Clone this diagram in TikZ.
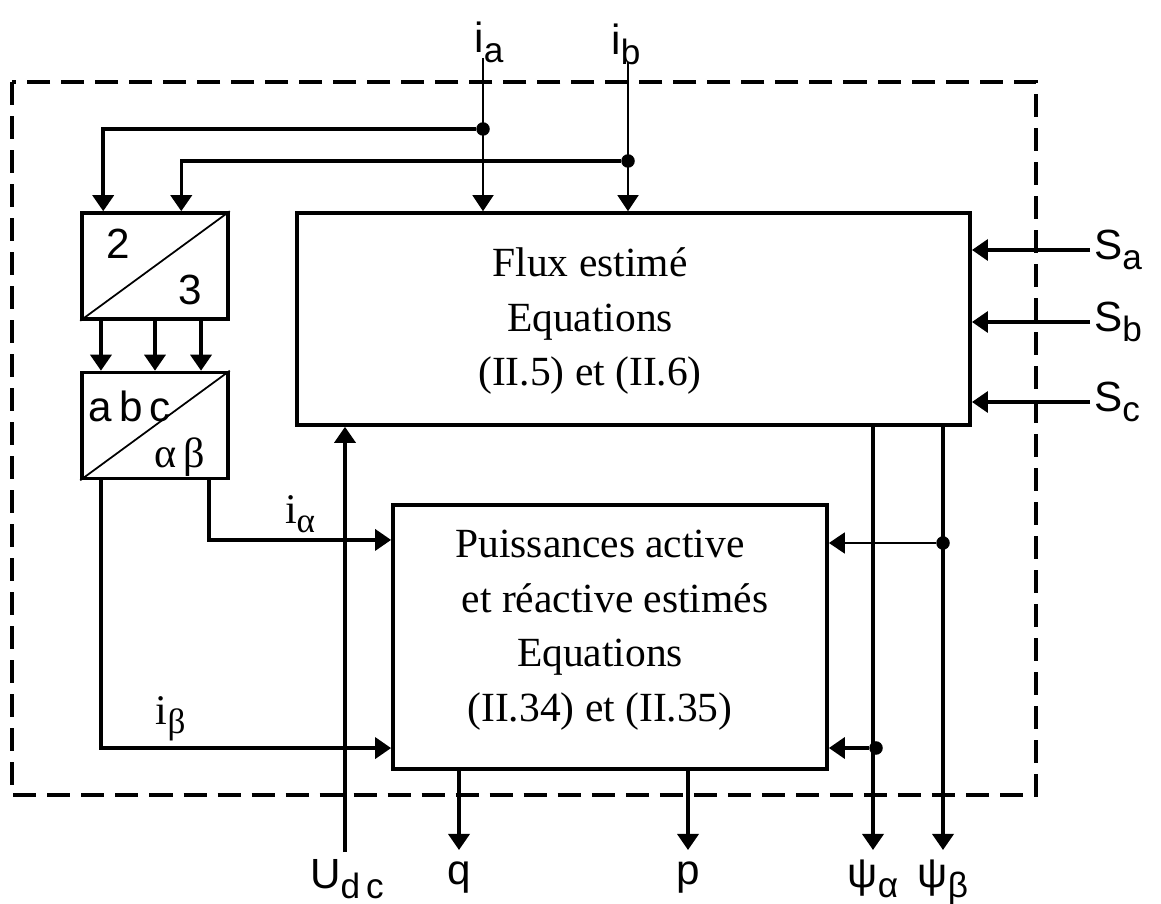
\documentclass[tikz,border=0pt]{standalone}
\usepackage{fontspec}
\setmainfont{Liberation Serif}
\setsansfont{Liberation Sans}
\usepackage{tikz}
\usetikzlibrary{arrows.meta,positioning,calc}
\newcommand{\lowsub}[1]{\raisebox{-0.45ex}{\fontsize{10}{10}\selectfont #1}}

\begin{document}
\begin{tikzpicture}[x=0.01cm,y=-0.01cm,>={Triangle[length=1.6mm,width=2.1mm]}]
  \tikzset{
    blk/.style={draw, line width=1pt, inner sep=0pt},
    conv/.style={draw, line width=1pt, minimum width=1.46cm, minimum height=1.06cm, inner sep=0pt},
    txt/.style={font=\rmfamily\fontsize{11.8}{15.5}\selectfont, align=center, inner sep=0pt},
    sig/.style={line width=1pt},
    thinsig/.style={line width=0.5pt},
    lbl/.style={font=\sffamily\fontsize{12}{14}\selectfont, inner sep=1pt},
    glbl/.style={font=\rmfamily\fontsize{12}{14}\selectfont, inner sep=1pt},
    dot/.style={circle, fill, inner sep=0pt, minimum size=1.35mm},
    frame/.style={line width=1pt, dash pattern=on 2.3mm off 1.1mm}
  }
  \useasboundingbox (0,0) rectangle (1161,904);
  \draw[frame] (12,82) rectangle (1036,795);

  % blocks
  \node[blk, minimum width=6.73cm, minimum height=2.12cm] (flux) at (633.5,319) {};
  \node[txt] (fluxtxt) at (590,321) {Flux estimé\\ Equations\\(II.5) et (II.6)};
  \node[blk, minimum width=4.34cm, minimum height=2.64cm] (pw) at (610,637) {};
  \node[txt] (pwtxt) at (600,630) {Puissances active\\ \hspace*{0.3cm}et réactive estimés\\Equations\\(II.34) et (II.35)};

  % converters
  \node[conv] (tt) at (155,266) {};
  \draw[thinsig] (tt.south west) -- (tt.north east);
  \node[lbl] at (118,244) {2};
  \node[lbl] at (190,290) {3};
  \node[conv] (ab) at (155,425.5) {};
  \draw[thinsig] (ab.south west) -- (ab.north east);
  \node[lbl] at (130,406) {a\,b\,c};
  \node[glbl] at (180,457) {α\,β};
  \foreach \dx in {-0.54,0,0.46}
    \draw[sig,->] ([xshift=\dx cm]tt.south) -- ([xshift=\dx cm]ab.north);

  % current inputs
  \coordinate (ia) at (483,58);
  \coordinate (ib) at (628,62);
  \node[lbl] (lia) at (489,42) {i\lowsub{a}};
  \node[lbl] (lib) at (626,44) {i\lowsub{b}};
  \draw[thinsig,->] (ia) -- (ia |- flux.north);
  \draw[thinsig,->] (ib) -- (ib |- flux.north);
  \node[dot] (da) at (483,129) {};
  \node[dot] (db) at (628,161) {};
  \draw[sig,->] (da) -| ([xshift=0.23cm]tt.north west);
  \draw[sig,->] (db) -| ([xshift=1.01cm]tt.north west);

  % switching states
  \node[lbl,anchor=west] (lsa) at (1090,250) {S\lowsub{a}};
  \node[lbl,anchor=west] (lsb) at (1090,322) {S\lowsub{b}};
  \node[lbl,anchor=west] (lsc) at (1090,402) {S\lowsub{c}};
  \foreach \s in {lsa,lsb,lsc}
    \draw[sig,->] (\s.west) -- (\s.west -| flux.east);

  % dc voltage
  \coordinate (u0) at (345,852);
  \node[lbl] (ludc) at (347,879) {U\lowsub{d\,c}};
  \draw[sig,->] (u0) -- (u0 |- flux.south);

  % alpha beta currents
  \draw[sig,->] ([xshift=0.54cm]ab.south) |- ([yshift=0.97cm]pw.west)
    node[glbl,pos=0.75,above=0.02cm] {i\lowsub{α}};
  \draw[sig,->] ([xshift=-0.54cm]ab.south) |- ([yshift=-1.11cm]pw.west)
    node[glbl,pos=0.62,above=0.02cm] {i\lowsub{β}};

  % outputs
  \coordinate (qe) at (459,850);
  \coordinate (pe) at (688,850);
  \coordinate (fa) at (873,850);
  \coordinate (fb) at (943,850);
  \draw[sig,->] (pw.south -| qe) -- (qe);
  \draw[sig,->] (pw.south -| pe) -- (pe);
  \draw[sig,->] (flux.south -| fa) -- (fa);
  \draw[sig,->] (flux.south -| fb) -- (fb);
  \node[lbl,anchor=north] (lq) at ([yshift=-0.08cm]qe) {q};
  \node[lbl,anchor=north] (lp) at ([yshift=-0.08cm]pe) {p};
  \node[lbl,anchor=north] (lfa) at ([yshift=-0.06cm]fa) {ψ\lowsub{α}};
  \node[lbl,anchor=north] (lfb) at ([yshift=-0.06cm]fb) {ψ\lowsub{β}};

  % flux feedback
  \node[dot] (pb) at (943,543) {};
  \node[dot] (pa) at (876,748) {};
  \draw[thinsig,->] (pb) -- (pb -| pw.east);
  \draw[sig,->] (pa) -- (pa -| pw.east);
\end{tikzpicture}
\end{document}
